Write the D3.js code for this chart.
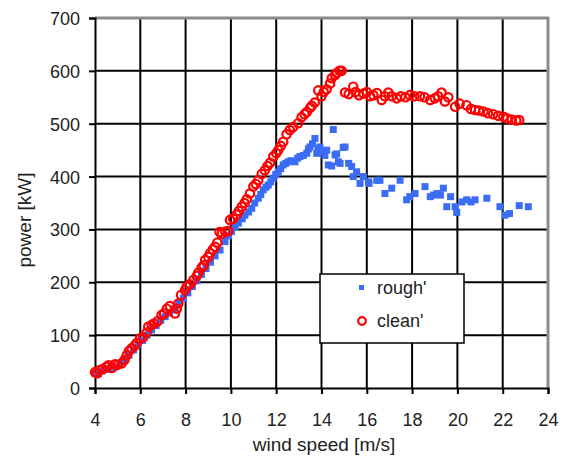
<!DOCTYPE html>
<html>
<head>
<meta charset="utf-8">
<script src="https://cdn.jsdelivr.net/npm/d3@7"></script>
<style>
  body { margin: 0; background: #fff; }
  text { font-family: "Liberation Sans", Arial, sans-serif; fill: #222; }
</style>
</head>
<body>
<div id="chart"></div>
<script>
// chart data
var xTicks = [4, 6, 8, 10, 12, 14, 16, 18, 20, 22, 24];
var yTicks = [0, 100, 200, 300, 400, 500, 600, 700];

var cleanSpeed = [4.0, 4.1, 4.2, 4.35, 4.5, 4.6, 4.75, 4.88, 5.0, 5.18, 5.3, 5.4, 5.5, 5.62, 5.75, 5.84, 5.99, 6.13, 6.28, 6.35,
  6.5, 6.6, 6.75, 6.94, 7.05, 7.17, 7.3, 7.53, 7.61, 7.68, 7.8, 7.97, 8.05, 8.19, 8.34, 8.49, 8.56, 8.71, 8.8, 8.86,
  9.0, 9.08, 9.2, 9.3, 9.4, 9.5, 9.6, 9.75, 9.88, 9.96, 10.1, 10.25, 10.35, 10.48, 10.6, 10.7, 10.84, 10.99, 11.1, 11.21,
  11.36, 11.5, 11.62, 11.73, 11.87, 12.0, 12.09, 12.2, 12.31, 12.46, 12.6, 12.75, 12.97, 13.12, 13.25, 13.35, 13.5, 13.57, 13.7, 13.86,
  14.0, 14.1, 14.23, 14.38, 14.45, 14.6, 14.67, 14.8, 14.89, 15.04, 15.2, 15.4, 15.5, 15.65, 15.85, 16.0, 16.15, 16.29, 16.45, 16.66,
  16.8, 16.95, 17.1, 17.32, 17.5, 17.7, 17.9, 18.1, 18.35, 18.55, 18.8, 19.0, 19.15, 19.3, 19.45, 19.6, 19.9, 20.1, 20.4, 20.6,
  20.78, 20.95, 21.15, 21.35, 21.58, 21.8, 22.03, 22.2, 22.4, 22.6, 22.73];
var cleanPower = [30, 28, 34, 36, 40, 43, 38, 45, 44, 47, 53, 62, 70, 75, 80, 85, 94, 96, 105, 116,
  119, 122, 126, 138, 141, 150, 155, 141, 150, 160, 176, 185, 192, 196, 204, 212, 218, 228, 232, 242,
  248, 255, 262, 267, 275, 295, 292, 296, 297, 318, 320, 328, 335, 343, 350, 357, 368, 381, 386, 393,
  405, 412, 420, 426, 438, 444, 450, 458, 466, 480, 488, 494, 501, 512, 518, 522, 530, 534, 540, 563,
  552, 560, 565, 576, 586, 592, 596, 600, 600, 559, 556, 570, 560, 554, 557, 560, 552, 554, 558, 545,
  552, 559, 552, 548, 552, 550, 554, 552, 552, 550, 545, 548, 552, 559, 542, 550, 532, 538, 535, 528,
  526, 525, 523, 520, 518, 515, 513, 510, 508, 506, 507];

var roughSpeed = [4.0, 4.15, 4.3, 4.5, 4.7, 4.9, 5.1, 5.3, 5.5, 5.7, 5.9, 6.1, 6.3, 6.5, 6.7, 6.9, 7.1, 7.3, 7.5, 7.7,
  7.9, 8.1, 8.3, 8.5, 8.7, 8.9, 9.1, 9.3, 9.52, 9.74, 9.9, 10.03, 10.18, 10.33, 10.5, 10.62, 10.78, 10.92, 11.05, 11.21,
  11.32, 11.43, 11.55, 11.65, 11.76, 11.87, 11.98, 12.09, 12.2, 12.31, 12.42, 12.53, 12.65, 12.83, 12.95, 13.05, 13.2, 13.35, 13.42, 13.49,
  13.6, 13.71, 13.79, 13.85, 13.93, 14.05, 14.15, 14.23, 14.3, 14.45, 14.52, 14.6, 14.67, 14.74, 14.82, 14.96, 15.04, 15.2, 15.33, 15.4,
  15.55, 15.7, 15.85, 16.07, 16.1, 16.44, 16.58, 16.8, 17.1, 17.47, 17.76, 17.9, 18.13, 18.57, 18.8, 18.95, 19.1, 19.25, 19.38, 19.53,
  19.7, 19.9, 19.97, 20.2, 20.41, 20.6, 20.78, 21.3, 21.88, 22.1, 22.3, 22.73, 23.13];
var roughPower = [28, 27, 32, 35, 38, 40, 44, 52, 62, 72, 82, 90, 100, 110, 118, 128, 135, 142, 150, 160,
  170, 180, 192, 203, 215, 226, 238, 250, 261, 277, 288, 296, 305, 312, 320, 327, 333, 340, 350, 359,
  366, 375, 380, 384, 390, 397, 404, 409, 415, 422, 425, 428, 430, 428, 435, 438, 440, 444, 452, 456,
  462, 472, 444, 452, 456, 448, 440, 450, 422, 420, 489, 441, 443, 428, 425, 455, 456, 425, 419, 400,
  409, 387, 400, 390, 387, 393, 393, 368, 378, 393, 356, 362, 368, 381, 362, 365, 368, 365, 378, 343,
  362, 343, 332, 352, 356, 352, 356, 359, 343, 327, 330, 345, 343];

var seriesNames = ["rough'", "clean'"];

var margin = { top: 18, right: 15, bottom: 69, left: 95 },
    width = 563 - margin.left - margin.right,
    height = 457 - margin.top - margin.bottom;

var svg = d3.select("#chart")
    .append("svg")
    .attr("width", 563)
    .attr("height", 457)
    .append("g")
    .attr("transform", "translate(" + margin.left + "," + margin.top + ")");

var x = d3.scaleLinear().domain([4, 24]).range([0, width]);
var y = d3.scaleLinear().domain([0, 700]).range([height, 0]);

// grid
svg.selectAll(".vgrid")
    .data(xTicks.slice(1, -1))
    .enter().append("line")
    .attr("x1", function(d) { return x(d); })
    .attr("x2", function(d) { return x(d); })
    .attr("y1", 0).attr("y2", height)
    .style("stroke", "#000").style("stroke-width", 2);
svg.selectAll(".hgrid")
    .data(yTicks.slice(1, -1))
    .enter().append("line")
    .attr("y1", function(d) { return y(d); })
    .attr("y2", function(d) { return y(d); })
    .attr("x1", 0).attr("x2", width)
    .style("stroke", "#000").style("stroke-width", 2);

// grey frame on top and right
svg.append("path")
    .attr("d", "M0," + y(700) + "H" + x(24) + "V" + y(0))
    .style("fill", "none").style("stroke", "#8c8c8c").style("stroke-width", 3);

// axes
var xAxis = d3.axisBottom(x).tickValues(xTicks).tickSize(6).tickPadding(19);
var yAxis = d3.axisLeft(y).tickValues(yTicks).tickSize(6).tickPadding(9);

var gx = svg.append("g").attr("transform", "translate(0," + height + ")").call(xAxis);
var gy = svg.append("g").call(yAxis);
[gx, gy].forEach(function(g) {
    g.select(".domain").style("stroke", "#000").style("stroke-width", 2);
    g.selectAll(".tick line").style("stroke", "#000").style("stroke-width", 2);
    g.selectAll(".tick text").style("font-size", "18px").style("font-family", "Liberation Sans, Arial, sans-serif").style("fill", "#222");
});
gy.selectAll(".tick text").attr("dy", "0.36em");

// points
svg.selectAll(".rough")
    .data(d3.zip(roughSpeed, roughPower))
    .enter().append("rect")
    .attr("x", function(d) { return x(d[0]) - 3.5; })
    .attr("y", function(d) { return y(d[1]) - 3.5; })
    .attr("width", 7).attr("height", 7)
    .style("fill", "#3a6cf6");

svg.selectAll(".clean")
    .data(d3.zip(cleanSpeed, cleanPower))
    .enter().append("circle")
    .attr("cx", function(d) { return x(d[0]); })
    .attr("cy", function(d) { return y(d[1]); })
    .attr("r", 4.2)
    .style("fill", "none").style("stroke", "#ff0000").style("stroke-width", 2.2);

// axis titles
svg.append("text")
    .attr("x", 229).attr("y", height + 63)
    .attr("text-anchor", "middle")
    .style("font-size", "19px")
    .text("wind speed [m/s]");
svg.append("text")
    .attr("transform", "translate(-64,202) rotate(-90)")
    .attr("text-anchor", "middle")
    .style("font-size", "19px")
    .text("power [kW]");

// legend
var legend = svg.append("g").attr("transform", "translate(" + (320 - margin.left) + "," + (274 - margin.top) + ")");
legend.append("rect")
    .attr("width", 144).attr("height", 69)
    .style("fill", "#fff").style("stroke", "#000").style("stroke-width", 1.5);
legend.append("rect")
    .attr("x", 39).attr("y", 11).attr("width", 5).attr("height", 5)
    .style("fill", "#3a6cf6");
legend.append("circle")
    .attr("cx", 42).attr("cy", 47).attr("r", 3.8)
    .style("fill", "none").style("stroke", "#ff0000").style("stroke-width", 2.2);
legend.selectAll(".ltext")
    .data(seriesNames)
    .enter().append("text")
    .attr("x", 57)
    .attr("y", function(d, i) { return 20 + i * 33; })
    .style("font-size", "18px")
    .text(function(d) { return d; });
</script>
</body>
</html>
